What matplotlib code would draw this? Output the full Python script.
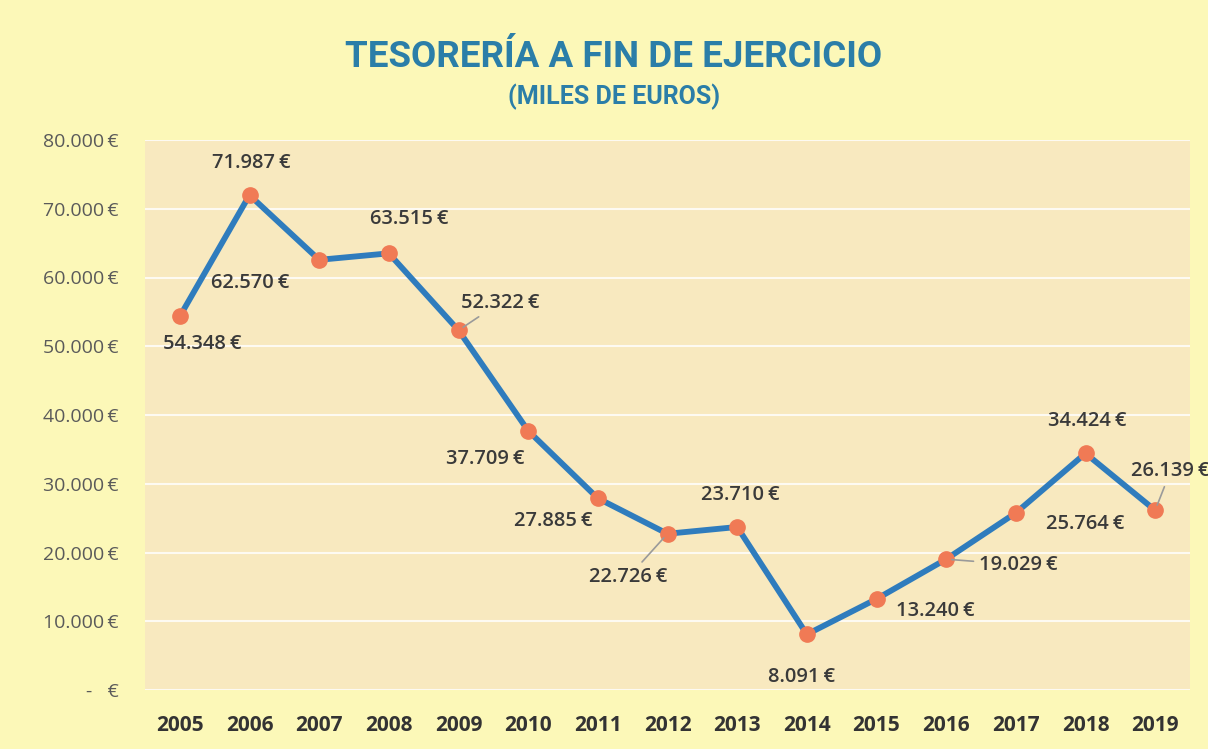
import matplotlib
matplotlib.use("Agg")
import matplotlib.pyplot as plt
from matplotlib.ticker import FuncFormatter

# ---------------- DATA ----------------
years = [2005, 2006, 2007, 2008, 2009, 2010, 2011, 2012, 2013, 2014, 2015, 2016, 2017, 2018, 2019]
cash = [54348, 71987, 62570, 63515, 52322, 37709, 27885, 22726, 23710, 8091, 13240, 19029, 25764, 34424, 26139]

# label offsets in points (dx, dy) and whether a leader line is drawn
label_offsets = [(16, -20), (1, 23), (-50, -17), (15, 25), (30, 20), (-31, -20), (-32, -16),
                 (-28, -31), (2, 23), (-4, -31), (42, -9), (52, -4), (50, -8), (1, 23), (11, 28)]
leaders = [False, False, False, False, True, False, False, True, False, False, False, True, False, False, True]


def euro_fmt(v, pos=None):
    if v == 0:
        return "-   €"
    return f"{v:,.0f}".replace(",", ".") + "\u2009€"


fig = plt.figure(figsize=(12.08, 7.49), dpi=100, facecolor="#fcf8b8")
ax = fig.add_axes([145 / 1208, 59 / 749, 1045 / 1208, 550 / 749])
ax.set_facecolor("#f8e9bf")

x = list(range(len(years)))
ax.plot(x, cash, color="#2f7cbd", lw=4.2, zorder=3,
        marker="o", markersize=11, markerfacecolor="#f07a55", markeredgecolor="#f07a55")

for i, v in enumerate(cash):
    dx, dy = label_offsets[i]
    arrow = dict(arrowstyle="-", color="#9a9a9a", lw=1.2, shrinkA=2, shrinkB=4) if leaders[i] else None
    ax.annotate(euro_fmt(v), (i, v), xytext=(dx, dy), textcoords="offset points",
                ha="center", va="center", fontsize=14.5, color="#3a3a3a",
                fontfamily="Open Sans", fontweight="semibold", arrowprops=arrow, zorder=4)

ax.set_xlim(-0.5, len(years) - 0.5)
ax.set_ylim(0, 80000)
ax.set_yticks(range(0, 80001, 10000))
ax.yaxis.set_major_formatter(FuncFormatter(euro_fmt))
ax.set_xticks(x)
ax.set_xticklabels([str(y) for y in years])
ax.grid(axis="y", color="white", lw=1.5, alpha=0.8, zorder=0)
for s in ax.spines.values():
    s.set_visible(False)
ax.tick_params(length=0)
ax.tick_params(axis="y", pad=19, labelsize=14, labelcolor="#5a5a5a")
ax.tick_params(axis="x", pad=18, labelsize=15, labelcolor="#333333")
for t in ax.get_yticklabels():
    t.set_fontfamily("Open Sans")
for t in ax.get_xticklabels():
    t.set_fontfamily("Open Sans")
    t.set_fontweight("bold")

fig.text(0.508, 1 - 57 / 749, "TESORERÍA A FIN DE EJERCICIO", ha="center", va="center",
         fontsize=26.5, fontweight="bold", color="#2b7ea8", fontfamily="Roboto")
fig.text(0.508, 1 - 97 / 749, "(MILES DE EUROS)", ha="center", va="center",
         fontsize=18, fontweight="bold", color="#2b7ea8", fontfamily="Roboto")

fig.savefig("out.png", dpi=100, facecolor=fig.get_facecolor())
